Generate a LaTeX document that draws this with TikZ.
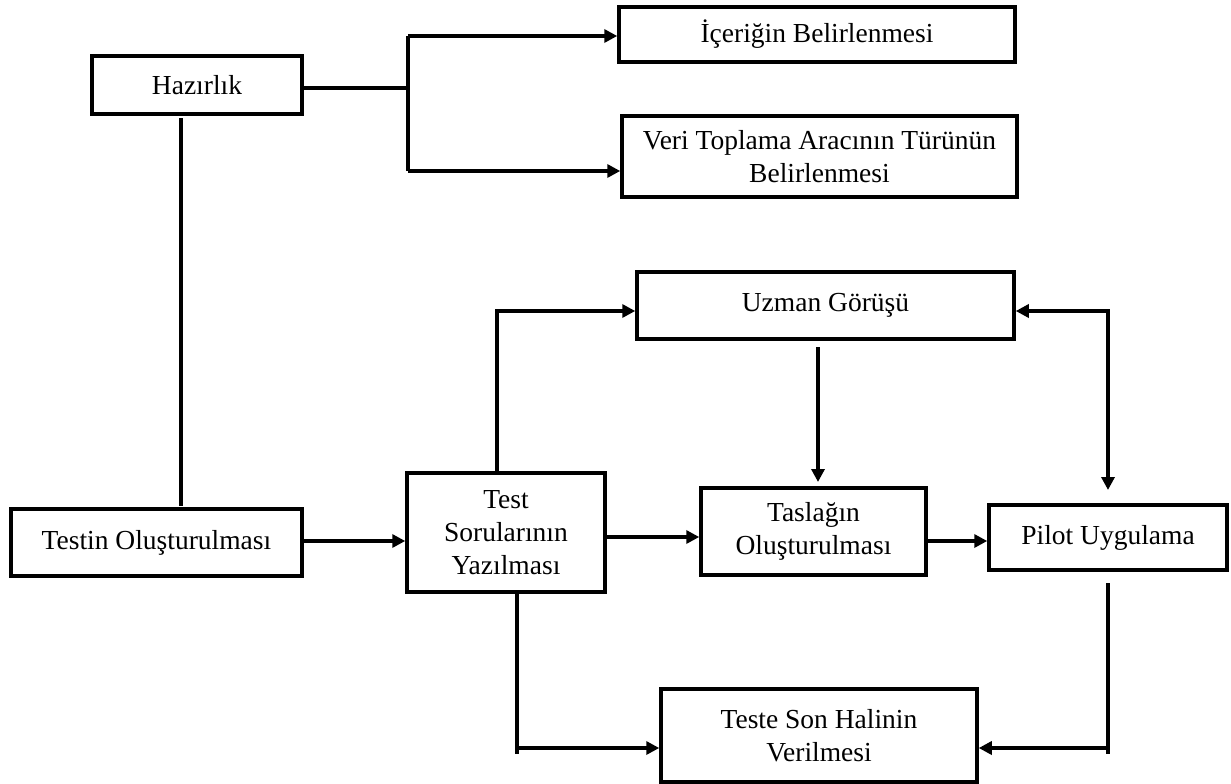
\documentclass[tikz,border=0pt]{standalone}
\usepackage{fontspec}
\setmainfont{Liberation Serif}
\usetikzlibrary{arrows.meta,calc}
\begin{document}
\begin{tikzpicture}[x=1pt,y=-1pt,
 box/.style={draw,line width=3.5pt,inner sep=0pt,align=center,font=\fontsize{27.5}{33}\selectfont},
 conn/.style={line width=3.5pt},
 arr/.style={line width=3.5pt,-{Triangle[length=13pt,width=13pt]}},
 darr/.style={line width=3.5pt,{Triangle[length=13pt,width=13pt]}-{Triangle[length=13pt,width=13pt]}}]
\useasboundingbox (0,0) rectangle (1231,784);
\node[box,minimum width=210pt,minimum height=58pt] (haz) at (197,85) {Hazırlık};
\node[box,minimum width=396pt,minimum height=55pt] (ice) at (817,34.5) {İçeriğin Belirlenmesi};
\node[box,minimum width=395pt,minimum height=81pt] (veri) at (819.5,156.5) {Veri Toplama Aracının Türünün\\Belirlenmesi};
\node[box,minimum width=291pt,minimum height=67pt] (testin) at (156.5,542.5) {Testin Oluşturulması};
\node[box,minimum width=198pt,minimum height=119pt] (tsy) at (506,532.5) {Test\\Sorularının\\Yazılması};
\node[box,minimum width=377pt,minimum height=67pt] (uzman) at (825.5,305.5) {Uzman Görüşü};
\node[box,minimum width=225pt,minimum height=87pt] (taslak) at (813.5,531.5) {Taslağın\\Oluşturulması};
\node[box,minimum width=238pt,minimum height=65pt] (pilot) at (1108,537.5) {Pilot Uygulama};
\node[box,minimum width=316pt,minimum height=93pt] (teste) at (819,735.5) {Teste Son Halinin\\Verilmesi};
% Hazirlik branches
\coordinate (j0) at (408,88);
\coordinate (j1t) at (408,36);
\coordinate (j1b) at (408,171);
\draw[conn] (j0 -| haz.east) -- (j0);
\draw[conn] (j1t) -- (j1b);
\draw[arr] (j1t) -- (j1t -| ice.west);
\draw[arr] (j1b) -- (j1b -| veri.west);
% Hazirlik down to Testin
\coordinate (h1) at (181,118);
\coordinate (h2) at (181,506);
\draw[conn] (h1) -- (h2);
\coordinate (t1) at (0,541);
\draw[arr] (t1 -| testin.east) -- (t1 -| tsy.west);
% Test -> Uzman
\coordinate (u1) at (497,311);
\draw[arr] (u1 |- tsy.north) -- (u1) -- (u1 -| uzman.west);
% Uzman -> Taslak
\coordinate (u2) at (818,347);
\coordinate (u3) at (818,482);
\draw[arr] (u2) -- (u3);
\coordinate (t2) at (0,537);
\draw[arr] (t2 -| tsy.east) -- (t2 -| taslak.west);
\coordinate (t3) at (0,541);
\draw[arr] (t3 -| taslak.east) -- (t3 -| pilot.west);
% Uzman <-> Pilot
\coordinate (p1) at (1108,311);
\coordinate (p2) at (1108,490);
\draw[darr] (p1 -| uzman.east) -- (p1) -- (p2);
% Pilot -> Teste
\coordinate (p3) at (1108,583);
\coordinate (p4) at (1108,754);
\coordinate (p5) at (1108,748);
\draw[conn] (p3) -- (p4);
\draw[arr] (p5) -- (p5 -| teste.east);
% Test -> Teste
\coordinate (s4) at (517,754);
\coordinate (s5) at (517,748);
\draw[conn] (tsy.south -| s4) -- (s4);
\draw[arr] (s5) -- (s5 -| teste.west);
\end{tikzpicture}
\end{document}
